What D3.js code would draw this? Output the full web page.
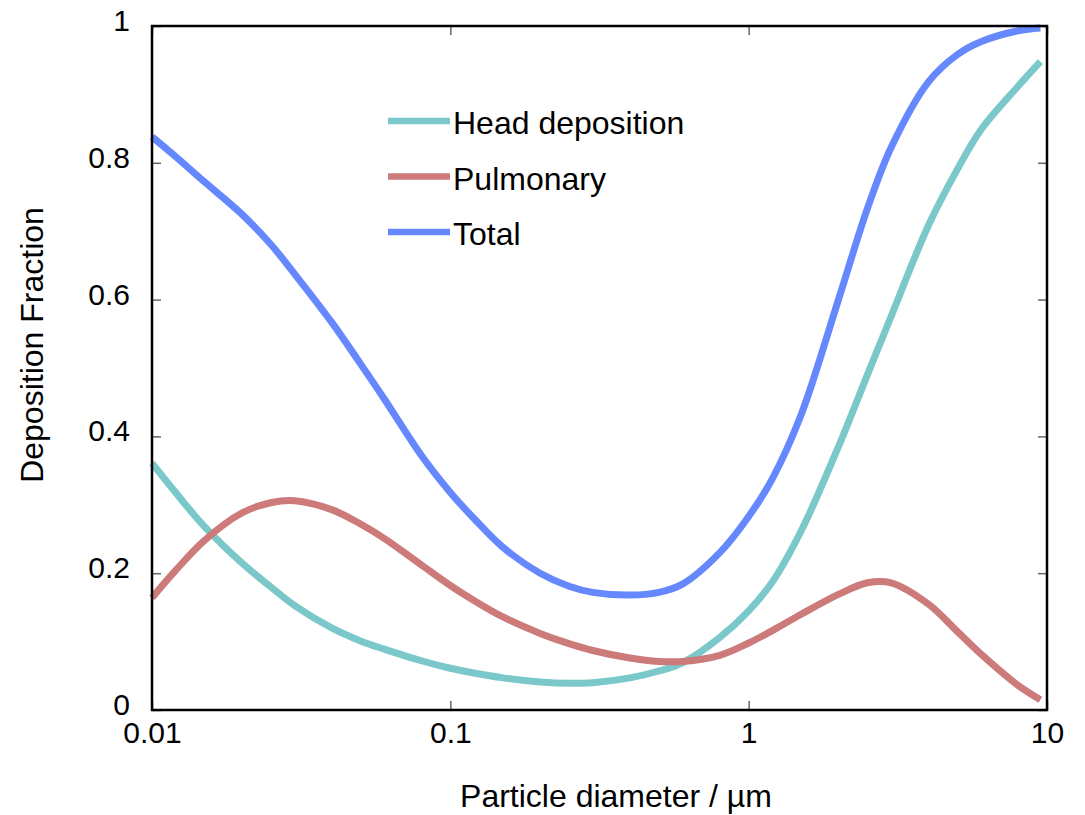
<!DOCTYPE html>
<html>
<head>
<meta charset="utf-8">
<script src="https://cdn.jsdelivr.net/npm/d3@7"></script>
<style>
  body { margin: 0; background: #fff; }
  text { font-family: "Liberation Sans", Arial, sans-serif; fill: #000; }
</style>
</head>
<body>
<div id="chart"></div>
<script>
// particle diameter in µm
const diameters = [0.01, 0.012, 0.015, 0.02, 0.025, 0.03, 0.04, 0.05, 0.06, 0.08,
  0.1, 0.12, 0.15, 0.2, 0.25, 0.3, 0.4, 0.5, 0.6, 0.8,
  1, 1.2, 1.5, 2, 2.5, 3, 4, 5, 6, 8, 9.5];

const headDeposition = [0.361, 0.318, 0.268, 0.215, 0.180, 0.153, 0.120, 0.101, 0.089, 0.072,
  0.061, 0.054, 0.047, 0.041, 0.039, 0.040, 0.047, 0.057, 0.069, 0.106,
  0.145, 0.187, 0.262, 0.385, 0.490, 0.575, 0.708, 0.790, 0.848, 0.912, 0.948];

const pulmonary = [0.164, 0.204, 0.248, 0.288, 0.303, 0.306, 0.293, 0.272, 0.251, 0.212,
  0.182, 0.160, 0.136, 0.112, 0.097, 0.087, 0.076, 0.071, 0.071, 0.080,
  0.098, 0.116, 0.140, 0.169, 0.186, 0.186, 0.155, 0.115, 0.082, 0.036, 0.015];

const total = [0.838, 0.809, 0.772, 0.725, 0.681, 0.638, 0.567, 0.506, 0.455, 0.372,
  0.318, 0.280, 0.238, 0.200, 0.181, 0.172, 0.168, 0.172, 0.184, 0.230,
  0.283, 0.338, 0.432, 0.600, 0.733, 0.822, 0.918, 0.958, 0.977, 0.993, 0.997];

const seriesNames = ["Head deposition", "Pulmonary", "Total"];
const seriesColors = ["#7ac8ca", "#cc7a7a", "#6688ff"];
const seriesValues = [headDeposition, pulmonary, total];

const xTicks = [0.01, 0.1, 1, 10];
const yTicks = [0, 0.2, 0.4, 0.6, 0.8, 1];

const width = 1085, height = 815;
const margin = { top: 26, right: 38, bottom: 105, left: 152 };
const innerW = width - margin.left - margin.right;
const innerH = height - margin.top - margin.bottom;

const svg = d3.select("#chart")
  .append("svg")
  .attr("width", width)
  .attr("height", height);

const g = svg.append("g")
  .attr("transform", `translate(${margin.left},${margin.top})`);

const x = d3.scaleLog().domain([0.01, 10]).range([0, innerW]);
const y = d3.scaleLinear().domain([0, 1]).range([innerH, 0]);

const fmt = d => String(d);

// axes with inward ticks
function styleAxis(sel) {
  sel.select(".domain").remove();
  sel.selectAll(".tick line").attr("stroke", "#666").attr("stroke-width", 1.5);
  sel.selectAll(".tick text").attr("font-size", 30).attr("fill", "#000");
}

g.append("g")
  .attr("transform", `translate(0,${innerH})`)
  .call(d3.axisBottom(x).tickValues(xTicks).tickFormat(fmt).tickSizeInner(-9).tickSizeOuter(0).tickPadding(12))
  .call(styleAxis);

g.append("g")
  .call(d3.axisTop(x).tickValues(xTicks).tickFormat("").tickSizeInner(-9).tickSizeOuter(0))
  .call(styleAxis);

g.append("g")
  .call(d3.axisLeft(y).tickValues(yTicks).tickFormat(fmt).tickSizeInner(-9).tickSizeOuter(0).tickPadding(22))
  .call(styleAxis)
  .selectAll(".tick text").attr("dy", "0.15em");

g.append("g")
  .attr("transform", `translate(${innerW},0)`)
  .call(d3.axisRight(y).tickValues(yTicks).tickFormat("").tickSizeInner(-9).tickSizeOuter(0))
  .call(styleAxis);

// curves
const line = d3.line()
  .x((d, i) => x(diameters[i]))
  .y(d => y(d))
  .curve(d3.curveCatmullRom.alpha(0.5));

seriesValues.forEach((vals, k) => {
  g.append("path")
    .datum(vals)
    .attr("d", line)
    .attr("fill", "none")
    .attr("stroke", seriesColors[k])
    .attr("stroke-width", 7)
    .attr("stroke-linejoin", "round");
});

// frame
g.append("rect")
  .attr("width", innerW)
  .attr("height", innerH)
  .attr("fill", "none")
  .attr("stroke", "#000")
  .attr("stroke-width", 2.5);

// legend
const legend = svg.append("g").attr("transform", "translate(388,121)");
seriesNames.forEach((name, k) => {
  const row = legend.append("g").attr("transform", `translate(0,${k * 55.5})`);
  row.append("line")
    .attr("x1", 0).attr("x2", 62)
    .attr("stroke", seriesColors[k])
    .attr("stroke-width", 6.5);
  row.append("text")
    .attr("x", 65)
    .attr("y", 13)
    .attr("font-size", 32)
    .text(name);
});

// axis titles
svg.append("text")
  .attr("x", 616)
  .attr("y", 807)
  .attr("text-anchor", "middle")
  .attr("font-size", 32)
  .text("Particle diameter / µm");

svg.append("text")
  .attr("transform", "translate(43,345) rotate(-90)")
  .attr("text-anchor", "middle")
  .attr("font-size", 32)
  .text("Deposition Fraction");
</script>
</body>
</html>
